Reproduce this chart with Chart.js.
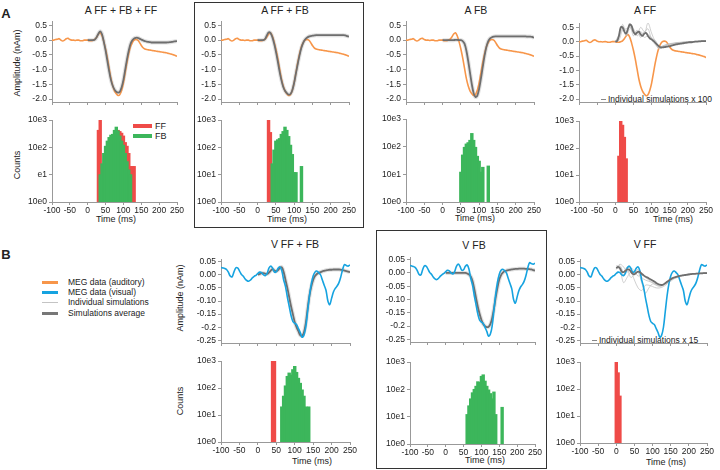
<!DOCTYPE html>
<html>
<head>
<meta charset="utf-8">
<script src="https://cdn.jsdelivr.net/npm/chart.js@4"></script>
<style>
  body { margin: 0; width: 720px; height: 470px; background: #fff; position: relative; overflow: hidden;
         font-family: "Liberation Sans", Arial, sans-serif; color: #222; }
  canvas { position: absolute; }
  .c { position: absolute; transform: translate(-50%, -50%); white-space: nowrap; font-size: 9px; }
  .l { position: absolute; transform: translateY(-50%); white-space: nowrap; font-size: 8.5px; }
  .rot { transform: translate(-50%, -50%) rotate(-90deg); }
  .ttl { font-size: 10.5px; }
  .box { position: absolute; border: 1.5px solid #333; box-sizing: border-box; }
  .sw { position: absolute; }
</style>
</head>
<body>
<!-- frames -->
<div class="box" style="left:194px;top:2px;width:170px;height:226px"></div>
<div class="box" style="left:376px;top:230px;width:171px;height:239px"></div>

<!-- panel letters -->
<div class="c" style="left:6px;top:13px;font-size:13px;font-weight:bold">A</div>
<div class="c" style="left:6px;top:254px;font-size:13px;font-weight:bold">B</div>

<!-- titles -->
<div class="c ttl" style="left:121px;top:10px">A FF + FB + FF</div>
<div class="c ttl" style="left:285px;top:10px">A FF + FB</div>
<div class="c ttl" style="left:476px;top:10px">A FB</div>
<div class="c ttl" style="left:645px;top:10px">A FF</div>
<div class="c ttl" style="left:295px;top:244px">V FF + FB</div>
<div class="c ttl" style="left:474px;top:245px">V FB</div>
<div class="c ttl" style="left:645px;top:244px">V FF</div>

<!-- axis titles -->
<div class="c rot" style="left:17px;top:63px">Amplitude (nAm)</div>
<div class="c rot" style="left:17px;top:165px">Counts</div>
<div class="c rot" style="left:180px;top:298px">Amplitude (nAm)</div>
<div class="c rot" style="left:180px;top:401px">Counts</div>
<div class="c" style="left:116px;top:219px">Time (ms)</div>
<div class="c" style="left:287px;top:219px">Time (ms)</div>
<div class="c" style="left:475px;top:218px">Time (ms)</div>
<div class="c" style="left:673px;top:219px">Time (ms)</div>
<div class="c" style="left:312px;top:461px">Time (ms)</div>
<div class="c" style="left:485px;top:460px">Time (ms)</div>
<div class="c" style="left:666px;top:462px">Time (ms)</div>

<!-- histogram legend (A, first panel) -->
<div class="sw" style="left:133px;top:124px;width:19px;height:4px;background:#ef4b48"></div>
<div class="l" style="left:155px;top:126px;font-size:9px">FF</div>
<div class="sw" style="left:133px;top:134px;width:19px;height:4px;background:#3cb65b"></div>
<div class="l" style="left:155px;top:136px;font-size:9px">FB</div>

<!-- main legend (B) -->
<div class="sw" style="left:42px;top:281px;width:16px;height:3px;background:#f7964a"></div>
<div class="l" style="left:68px;top:282px">MEG data (auditory)</div>
<div class="sw" style="left:42px;top:291px;width:16px;height:3px;background:#16a3e0"></div>
<div class="l" style="left:68px;top:292px">MEG data (visual)</div>
<div class="sw" style="left:42px;top:301.5px;width:16px;height:1px;background:#c4c4c4"></div>
<div class="l" style="left:68px;top:302px">Individual simulations</div>
<div class="sw" style="left:42px;top:311.5px;width:16px;height:3px;background:#777"></div>
<div class="l" style="left:68px;top:313px">Simulations average</div>

<!-- individual simulations notes -->
<div class="sw" style="left:601px;top:98.5px;width:5px;height:1px;background:#888"></div>
<div class="l" style="left:608px;top:99px">Individual simulations x 100</div>
<div class="sw" style="left:592px;top:339.5px;width:5px;height:1px;background:#888"></div>
<div class="l" style="left:599px;top:340px">Individual simulations x 15</div>

<script>
// time axes (ms)
const tMeg = [-100, -95, -90, -85, -80, -75, -70, -65, -60, -55, -50, -45, -40, -35, -30, -25, -20, -15, -10, -5,
  0, 5, 10, 15, 20, 25, 30, 35, 40, 45, 50, 55, 60, 65, 70, 75, 80, 85, 90, 95,
  100, 105, 110, 115, 120, 125, 130, 135, 140, 145, 150, 155, 160, 165, 170, 175, 180, 185, 190, 195,
  200, 205, 210, 215, 220, 225, 230, 235, 240, 245, 250];
const tSim = [0, 5, 10, 15, 20, 25, 30, 35, 40, 45, 50, 55, 60, 65, 70, 75, 80, 85, 90, 95,
  100, 105, 110, 115, 120, 125, 130, 135, 140, 145, 150, 155, 160, 165, 170, 175, 180, 185, 190, 195,
  200, 205, 210, 215, 220, 225, 230, 235, 240, 245, 250];
const tInd = [0, 10, 20, 30, 40, 50, 60, 70, 80, 90, 100, 110, 120, 130, 140, 150, 160, 170, 180, 190,
  200, 210, 220, 230, 240, 250];

// MEG data (nAm)
const megAuditory = [0.0, 0.0, 0.02, 0.03, 0.05, 0.0, -0.03, 0.0, 0.05, 0.06, 0.02, 0.0, 0.0, -0.01, 0.0, 0.0, -0.02, -0.02, 0.0, 0.0,
  0.0, -0.02, -0.02, 0.0, 0.03, 0.1, 0.2, 0.25, 0.15, -0.05, -0.3, -0.6, -0.95, -1.3, -1.55, -1.72, -1.82, -1.88, -1.85, -1.7,
  -1.45, -1.1, -0.75, -0.45, -0.22, -0.08, 0.0, 0.02, 0.0, -0.08, -0.18, -0.26, -0.3, -0.32, -0.33, -0.34, -0.35, -0.36, -0.37, -0.38,
  -0.39, -0.4, -0.41, -0.42, -0.43, -0.45, -0.46, -0.48, -0.5, -0.52, -0.55];
const megVisual = [0.028, 0.026, 0.024, 0.02, 0.01, -0.005, -0.008, 0.01, 0.026, 0.026, 0.015, 0.002, -0.005, -0.015, -0.022, -0.025, -0.02, -0.012, -0.006, -0.002,
  0.005, 0.01, 0.008, 0.0, -0.004, 0.005, 0.025, 0.033, 0.025, 0.01, 0.012, 0.025, 0.03, 0.015, -0.02, -0.045, -0.085, -0.12, -0.155, -0.178,
  -0.185, -0.19, -0.205, -0.22, -0.238, -0.23, -0.2, -0.14, -0.08, -0.035, -0.005, 0.01, 0.014, 0.008, 0.0, -0.02, -0.04, -0.06, -0.1, -0.114,
  -0.09, -0.066, -0.052, -0.043, -0.03, -0.008, 0.02, 0.039, 0.035, 0.033, 0.037];

// simulation averages (nAm)
const simA_FFFBFF = [0, 0, 0, 0, 0.02, 0.1, 0.22, 0.3, 0.2, -0.05,
  -0.35, -0.7, -1.05, -1.35, -1.55, -1.68, -1.75, -1.78, -1.75, -1.6,
  -1.35, -1.0, -0.65, -0.35, -0.12, 0.0, 0.06, 0.08, 0.08, 0.05,
  0.02, -0.01, -0.03, -0.05, -0.06, -0.07, -0.08, -0.08, -0.08, -0.08,
  -0.08, -0.08, -0.08, -0.08, -0.08, -0.075, -0.07, -0.06, -0.05, -0.04, -0.03];
const simA_FFFB = [0, 0, 0, 0, 0.03, 0.15, 0.26, 0.25, 0.12, -0.1,
  -0.38, -0.7, -1.05, -1.35, -1.58, -1.72, -1.8, -1.85, -1.83, -1.7,
  -1.45, -1.12, -0.8, -0.5, -0.25, -0.08, 0.02, 0.08, 0.12, 0.14,
  0.15, 0.16, 0.17, 0.17, 0.17, 0.17, 0.17, 0.17, 0.17, 0.17,
  0.17, 0.17, 0.17, 0.17, 0.17, 0.17, 0.17, 0.17, 0.16, 0.14, 0.12];
const simA_FB = [0, 0, 0, 0, 0, 0, 0, 0.01, 0.01, 0.0,
  0.0, -0.03, -0.12, -0.35, -0.7, -1.1, -1.5, -1.8, -1.93, -1.88,
  -1.65, -1.3, -0.9, -0.52, -0.22, -0.03, 0.06, 0.1, 0.12, 0.13,
  0.13, 0.13, 0.13, 0.13, 0.13, 0.13, 0.13, 0.13, 0.13, 0.13,
  0.13, 0.13, 0.13, 0.13, 0.13, 0.13, 0.12, 0.12, 0.12, 0.11, 0.08];
const simA_FF = [0, 0.02, 0.2, 0.5, 0.5, 0.35, 0.28, 0.45, 0.6, 0.55,
  0.35, 0.25, 0.32, 0.35, 0.25, 0.2, 0.28, 0.3, 0.2, 0.12,
  0.08, 0.03, -0.03, -0.1, -0.16, -0.2, -0.2, -0.19, -0.18, -0.17,
  -0.16, -0.14, -0.12, -0.1, -0.09, -0.08, -0.07, -0.06, -0.05, -0.04,
  -0.03, -0.02, -0.02, -0.01, 0.0, 0.0, 0.01, 0.01, 0.02, 0.02, 0.02];
const simV_FFFB = [0, 0.003, 0.006, 0.006, 0.004, 0.003, 0.008, 0.016, 0.021, 0.016,
  0.013, 0.018, 0.027, 0.028, 0.01, -0.02, -0.05, -0.085, -0.12, -0.15,
  -0.18, -0.2, -0.215, -0.23, -0.232, -0.22, -0.185, -0.13, -0.08, -0.045,
  -0.02, -0.005, 0.003, 0.007, 0.01, 0.013, 0.015, 0.017, 0.018, 0.019,
  0.019, 0.02, 0.02, 0.02, 0.02, 0.019, 0.018, 0.016, 0.014, 0.012, 0.01];
const simV_FB = [0, 0, 0, 0, 0, 0, 0, 0, 0, 0,
  0, 0, -0.002, -0.006, -0.013, -0.03, -0.06, -0.095, -0.128, -0.155,
  -0.177, -0.192, -0.2, -0.204, -0.203, -0.193, -0.17, -0.135, -0.092, -0.055,
  -0.025, -0.008, 0.001, 0.006, 0.009, 0.011, 0.012, 0.013, 0.014, 0.015,
  0.015, 0.016, 0.016, 0.016, 0.016, 0.015, 0.015, 0.014, 0.013, 0.011, 0.009];
const simV_FF = [0.025, 0.03, 0.025, 0.012, 0.01, 0.015, 0.02, 0.02, 0.012, 0.004,
  0.002, 0.008, 0.012, 0.01, 0.004, -0.002, -0.007, -0.01, -0.014, -0.018,
  -0.022, -0.026, -0.031, -0.035, -0.038, -0.039, -0.037, -0.032, -0.027, -0.022,
  -0.017, -0.013, -0.01, -0.008, -0.006, -0.004, -0.003, -0.002, -0.001, 0.0,
  0.001, 0.002, 0.003, 0.003, 0.004, 0.004, 0.005, 0.005, 0.006, 0.006, 0.006];

// a few individual simulations (FF-only panels)
const indA_FF1 = [0, 0.25, 0.6, 0.35, 0.55, 0.3, 0.3, 0.35, 0.25, 0.65, 0.3, 0.0, -0.2, -0.15, -0.1, -0.07, -0.05, -0.03, -0.02, -0.01, 0.0, 0.0, 0.01, 0.02, 0.02, 0.03];
const indA_FF2 = [0, 0.15, 0.45, 0.25, 0.65, 0.2, 0.4, 0.15, 0.35, 0.25, 0.15, -0.05, -0.25, -0.18, -0.12, -0.08, -0.06, -0.04, -0.03, -0.02, -0.01, 0.0, 0.01, 0.01, 0.02, 0.02];
const indA_FF3 = [0, 0.05, 0.4, 0.45, 0.5, 0.45, 0.2, 0.3, 0.15, 0.2, 0.05, -0.1, -0.22, -0.2, -0.14, -0.1, -0.08, -0.05, -0.04, -0.02, -0.01, 0.0, 0.0, 0.01, 0.01, 0.02];
const indA_FF4 = [0, 0.2, 0.55, 0.2, 0.45, 0.35, 0.25, 0.5, 0.35, 0.45, 0.1, 0.05, -0.15, -0.16, -0.12, -0.09, -0.07, -0.05, -0.03, -0.02, -0.01, 0.0, 0.01, 0.01, 0.02, 0.02];
const indV_FF1 = [0.03, 0.02, -0.03, -0.01, 0.01, -0.02, -0.05, -0.06, -0.04, -0.04, -0.045, -0.05, -0.05, -0.045, -0.035, -0.025, -0.015, -0.01, -0.005, 0.0, 0.002, 0.004, 0.005, 0.006, 0.007, 0.008];
const indV_FF2 = [0.02, 0.035, 0.01, 0.03, 0.02, 0.01, 0.02, -0.01, -0.02, -0.025, -0.03, -0.035, -0.04, -0.035, -0.025, -0.017, -0.01, -0.006, -0.003, 0.0, 0.002, 0.003, 0.004, 0.005, 0.006, 0.006];
const indV_FF3 = [0.035, 0.03, 0.0, 0.02, -0.01, 0.0, 0.01, -0.03, -0.07, -0.05, -0.035, -0.04, -0.045, -0.04, -0.03, -0.02, -0.012, -0.007, -0.003, 0.0, 0.002, 0.004, 0.005, 0.005, 0.006, 0.007];
const indV_FF4 = [0.025, 0.04, 0.03, 0.01, 0.025, 0.015, -0.005, 0.0, -0.01, -0.02, -0.03, -0.038, -0.042, -0.038, -0.03, -0.02, -0.012, -0.006, -0.002, 0.0, 0.003, 0.004, 0.005, 0.006, 0.006, 0.007];

// histograms: bin centres (ms) and counts
const binA1_FF = [30, 35, 85, 90, 95, 100, 105, 110, 115, 120, 125, 130];
const cntA1_FF = [420, 1000, 420, 380, 330, 260, 150, 110, 60, 20, 20, 20];
const binA1_FB = [35, 40, 45, 50, 55, 60, 65, 70, 75, 80, 85, 90, 95, 100, 105, 110, 115, 120];
const cntA1_FB = [10, 25, 60, 110, 170, 230, 280, 300, 420, 550, 400, 260, 170, 120, 60, 30, 15, 10];
const binA2_FF = [30, 35];
const cntA2_FF = [1000, 350];
const binA2_FB = [40, 45, 50, 55, 60, 65, 70, 75, 80, 85, 90, 95, 100, 105, 120];
const cntA2_FB = [25, 80, 170, 190, 210, 300, 380, 550, 420, 250, 120, 55, 12, 12, 20];
const binA3_FB = [50, 55, 60, 65, 70, 75, 80, 85, 90, 95, 100, 105, 110, 125];
const cntA3_FB = [12, 50, 95, 125, 140, 170, 300, 170, 95, 45, 30, 12, 18, 20];
const binA4_FF = [10, 15, 20, 25, 30];
const cntA4_FF = [50, 1000, 700, 250, 40];
const binB1_FF = [40, 45];
const cntB1_FF = [1000, 1000];
const binB1_FB = [65, 70, 75, 80, 85, 90, 95, 100, 105, 110, 115, 120, 125, 130, 138];
const cntB1_FB = [20, 50, 120, 270, 360, 300, 480, 630, 380, 230, 150, 85, 50, 20, 20];
const binB2_FB = [60, 65, 70, 75, 80, 85, 90, 95, 100, 105, 110, 115, 120, 125, 130, 135, 140, 158];
const cntB2_FB = [12, 25, 45, 75, 100, 130, 190, 180, 300, 340, 200, 130, 95, 70, 45, 80, 12, 22];
const binB3_FF = [0, 5, 10];
const cntB3_FF = [1000, 400, 55];

// ticks
const xTicks = [-100, -50, 0, 50, 100, 150, 200, 250];
const yTicksA = [0.5, 0, -0.5, -1, -1.5, -2];
const yLabelsA = ["0.5", "0.0", "-0.5", "-1.0", "-1.5", "-2.0"];
const yTicksV = [0.05, 0, -0.05, -0.1, -0.15, -0.2, -0.25];
const yLabelsV = ["0.05", "0.00", "-0.05", "-0.10", "-0.15", "-0.2", "-0.25"];
const countTicks = [1, 10, 100, 1000];
const countLabels = ["10e0", "10e1", "10e2", "10e3"];
const countLabelsFirst = ["10e0", "e1", "10e2", "10e3"];

const ORANGE = "#f7964a";
const BLUE = "#16a3e0";
const GREEN = "#3cb65b";
const RED = "#ef4b48";
const AVG = "#6e6e6e";
const BAND = "rgba(190,190,190,0.45)";
const IND = "rgba(190,190,190,0.9)";

const YW = 40, PT = 10, PR = 12;
const tickFont = { family: "Liberation Sans", size: 8.5 };
const axisBorder = { display: true, color: "#999", width: 1 };
const tickGrid = { display: true, drawOnChartArea: false, drawTicks: true, tickLength: 3, color: "#999", offset: false };

function pts(xs, ys) {
  return xs.map((x, i) => ({ x: x, y: ys[i] }));
}

// canvas placed so that the chart area lands on the given rectangle
function place(area, xh) {
  const l = Math.round(area.l), t = Math.round(area.t);
  const w = Math.round(area.r) - l + YW + PR;
  const h = Math.round(area.b) - t + PT + xh;
  const c = document.createElement("canvas");
  c.width = w;
  c.height = h;
  c.style.left = (l - YW) + "px";
  c.style.top = (t - PT) + "px";
  c.style.width = w + "px";
  c.style.height = h + "px";
  document.body.appendChild(c);
  return c;
}

function baseOptions() {
  return {
    responsive: false,
    animation: false,
    devicePixelRatio: 1,
    layout: { padding: { top: PT, right: PR, left: 0, bottom: 0 } },
    plugins: { legend: { display: false }, tooltip: { enabled: false } },
  };
}

function lineChart(area, yMin, yMax, yTicks, yLabels, datasets) {
  const opts = baseOptions();
  opts.elements = { point: { radius: 0 } };
  opts.scales = {
    x: {
      type: "linear", min: -100, max: 250,
      afterBuildTicks: s => { s.ticks = xTicks.map(v => ({ value: v })); },
      ticks: { display: false },
      grid: tickGrid, border: axisBorder,
      afterFit: s => { s.height = 10; },
    },
    y: {
      type: "linear", min: yMin, max: yMax,
      afterBuildTicks: s => { s.ticks = yTicks.map(v => ({ value: v })); },
      ticks: { autoSkip: false, font: tickFont, color: "#222", padding: 2, callback: (v, i) => yLabels[i] },
      grid: tickGrid, border: axisBorder,
      afterFit: s => { s.width = YW; },
    },
  };
  new Chart(place(area, 10), { type: "line", data: { datasets: datasets }, options: opts });
}

function histChart(area, labels, datasets) {
  const opts = baseOptions();
  opts.scales = {
    x: {
      type: "linear", min: -100, max: 250, offset: false,
      afterBuildTicks: s => { s.ticks = xTicks.map(v => ({ value: v })); },
      ticks: { autoSkip: false, maxRotation: 0, font: tickFont, color: "#222", padding: 1 },
      grid: tickGrid, border: axisBorder,
      afterFit: s => { s.height = 16; },
    },
    y: {
      type: "logarithmic", min: 1, max: 1000,
      afterBuildTicks: s => { s.ticks = countTicks.map(v => ({ value: v })); },
      ticks: { autoSkip: false, font: tickFont, color: "#222", padding: 2, callback: (v, i) => labels[i] },
      grid: tickGrid, border: axisBorder,
      afterFit: s => { s.width = YW; },
    },
  };
  new Chart(place(area, 16), { type: "bar", data: { datasets: datasets }, options: opts });
}

function bars(xs, ys, color, order) {
  return { data: pts(xs, ys), backgroundColor: color, borderWidth: 0, grouped: false,
           barPercentage: 1.45, categoryPercentage: 1, inflateAmount: 0.4, order: order };
}
function avgLine(ys) {
  return { data: pts(tSim, ys), borderColor: AVG, borderWidth: 1.8, tension: 0.35, fill: false };
}
function bandLine(ys) {
  return { data: pts(tSim, ys), borderColor: BAND, borderWidth: 4, tension: 0.35, fill: false };
}
function indLine(ys) {
  return { data: pts(tInd, ys), borderColor: IND, borderWidth: 0.8, tension: 0.35, fill: false };
}
function megLine(ys, color) {
  return { data: pts(tMeg, ys), borderColor: color, borderWidth: 1.6, tension: 0.35, fill: false };
}

// ---- row A (auditory) ----
lineChart({ l: 51.5, r: 177, t: 21, b: 102 }, -2.1, 0.65, yTicksA, yLabelsA,
  [avgLine(simA_FFFBFF), megLine(megAuditory, ORANGE), bandLine(simA_FFFBFF)]);
lineChart({ l: 221, r: 348.5, t: 21, b: 102 }, -2.1, 0.65, yTicksA, yLabelsA,
  [avgLine(simA_FFFB), megLine(megAuditory, ORANGE), bandLine(simA_FFFB)]);
lineChart({ l: 406, r: 534, t: 21, b: 102 }, -2.1, 0.65, yTicksA, yLabelsA,
  [avgLine(simA_FB), megLine(megAuditory, ORANGE), bandLine(simA_FB)]);
lineChart({ l: 579, r: 706, t: 23, b: 102 }, -2.1, 0.65, yTicksA, yLabelsA,
  [avgLine(simA_FF), indLine(indA_FF1), indLine(indA_FF2), indLine(indA_FF3), indLine(indA_FF4),
   megLine(megAuditory, ORANGE)]);

histChart({ l: 51.5, r: 177, t: 120, b: 202 }, countLabelsFirst,
  [bars(binA1_FB, cntA1_FB, GREEN, 0), bars(binA1_FF, cntA1_FF, RED, 1)]);
histChart({ l: 221, r: 348.5, t: 120, b: 202 }, countLabels,
  [bars(binA2_FB, cntA2_FB, GREEN, 0), bars(binA2_FF, cntA2_FF, RED, 1)]);
histChart({ l: 406, r: 534, t: 119, b: 202 }, countLabels,
  [bars(binA3_FB, cntA3_FB, GREEN, 0)]);
histChart({ l: 579, r: 706, t: 121, b: 202 }, countLabels,
  [bars(binA4_FF, cntA4_FF, RED, 0)]);

// ---- row B (visual) ----
lineChart({ l: 221, r: 350, t: 258.5, b: 342.5 }, -0.26, 0.06, yTicksV, yLabelsV,
  [megLine(megVisual, BLUE), avgLine(simV_FFFB), bandLine(simV_FFFB)]);
lineChart({ l: 410, r: 535, t: 256.5, b: 341.5 }, -0.26, 0.06, yTicksV, yLabelsV,
  [megLine(megVisual, BLUE), avgLine(simV_FB), bandLine(simV_FB)]);
lineChart({ l: 580, r: 707, t: 258.5, b: 342.5 }, -0.26, 0.06, yTicksV, yLabelsV,
  [avgLine(simV_FF), megLine(megVisual, BLUE), indLine(indV_FF1), indLine(indV_FF2), indLine(indV_FF3), indLine(indV_FF4)]);

histChart({ l: 221, r: 350, t: 361, b: 442 }, countLabels,
  [bars(binB1_FB, cntB1_FB, GREEN, 0), bars(binB1_FF, cntB1_FF, RED, 1)]);
histChart({ l: 410, r: 535, t: 362, b: 444 }, countLabels,
  [bars(binB2_FB, cntB2_FB, GREEN, 0)]);
histChart({ l: 580, r: 707, t: 362, b: 443 }, countLabels,
  [bars(binB3_FF, cntB3_FF, RED, 0)]);
</script>
</body>
</html>
